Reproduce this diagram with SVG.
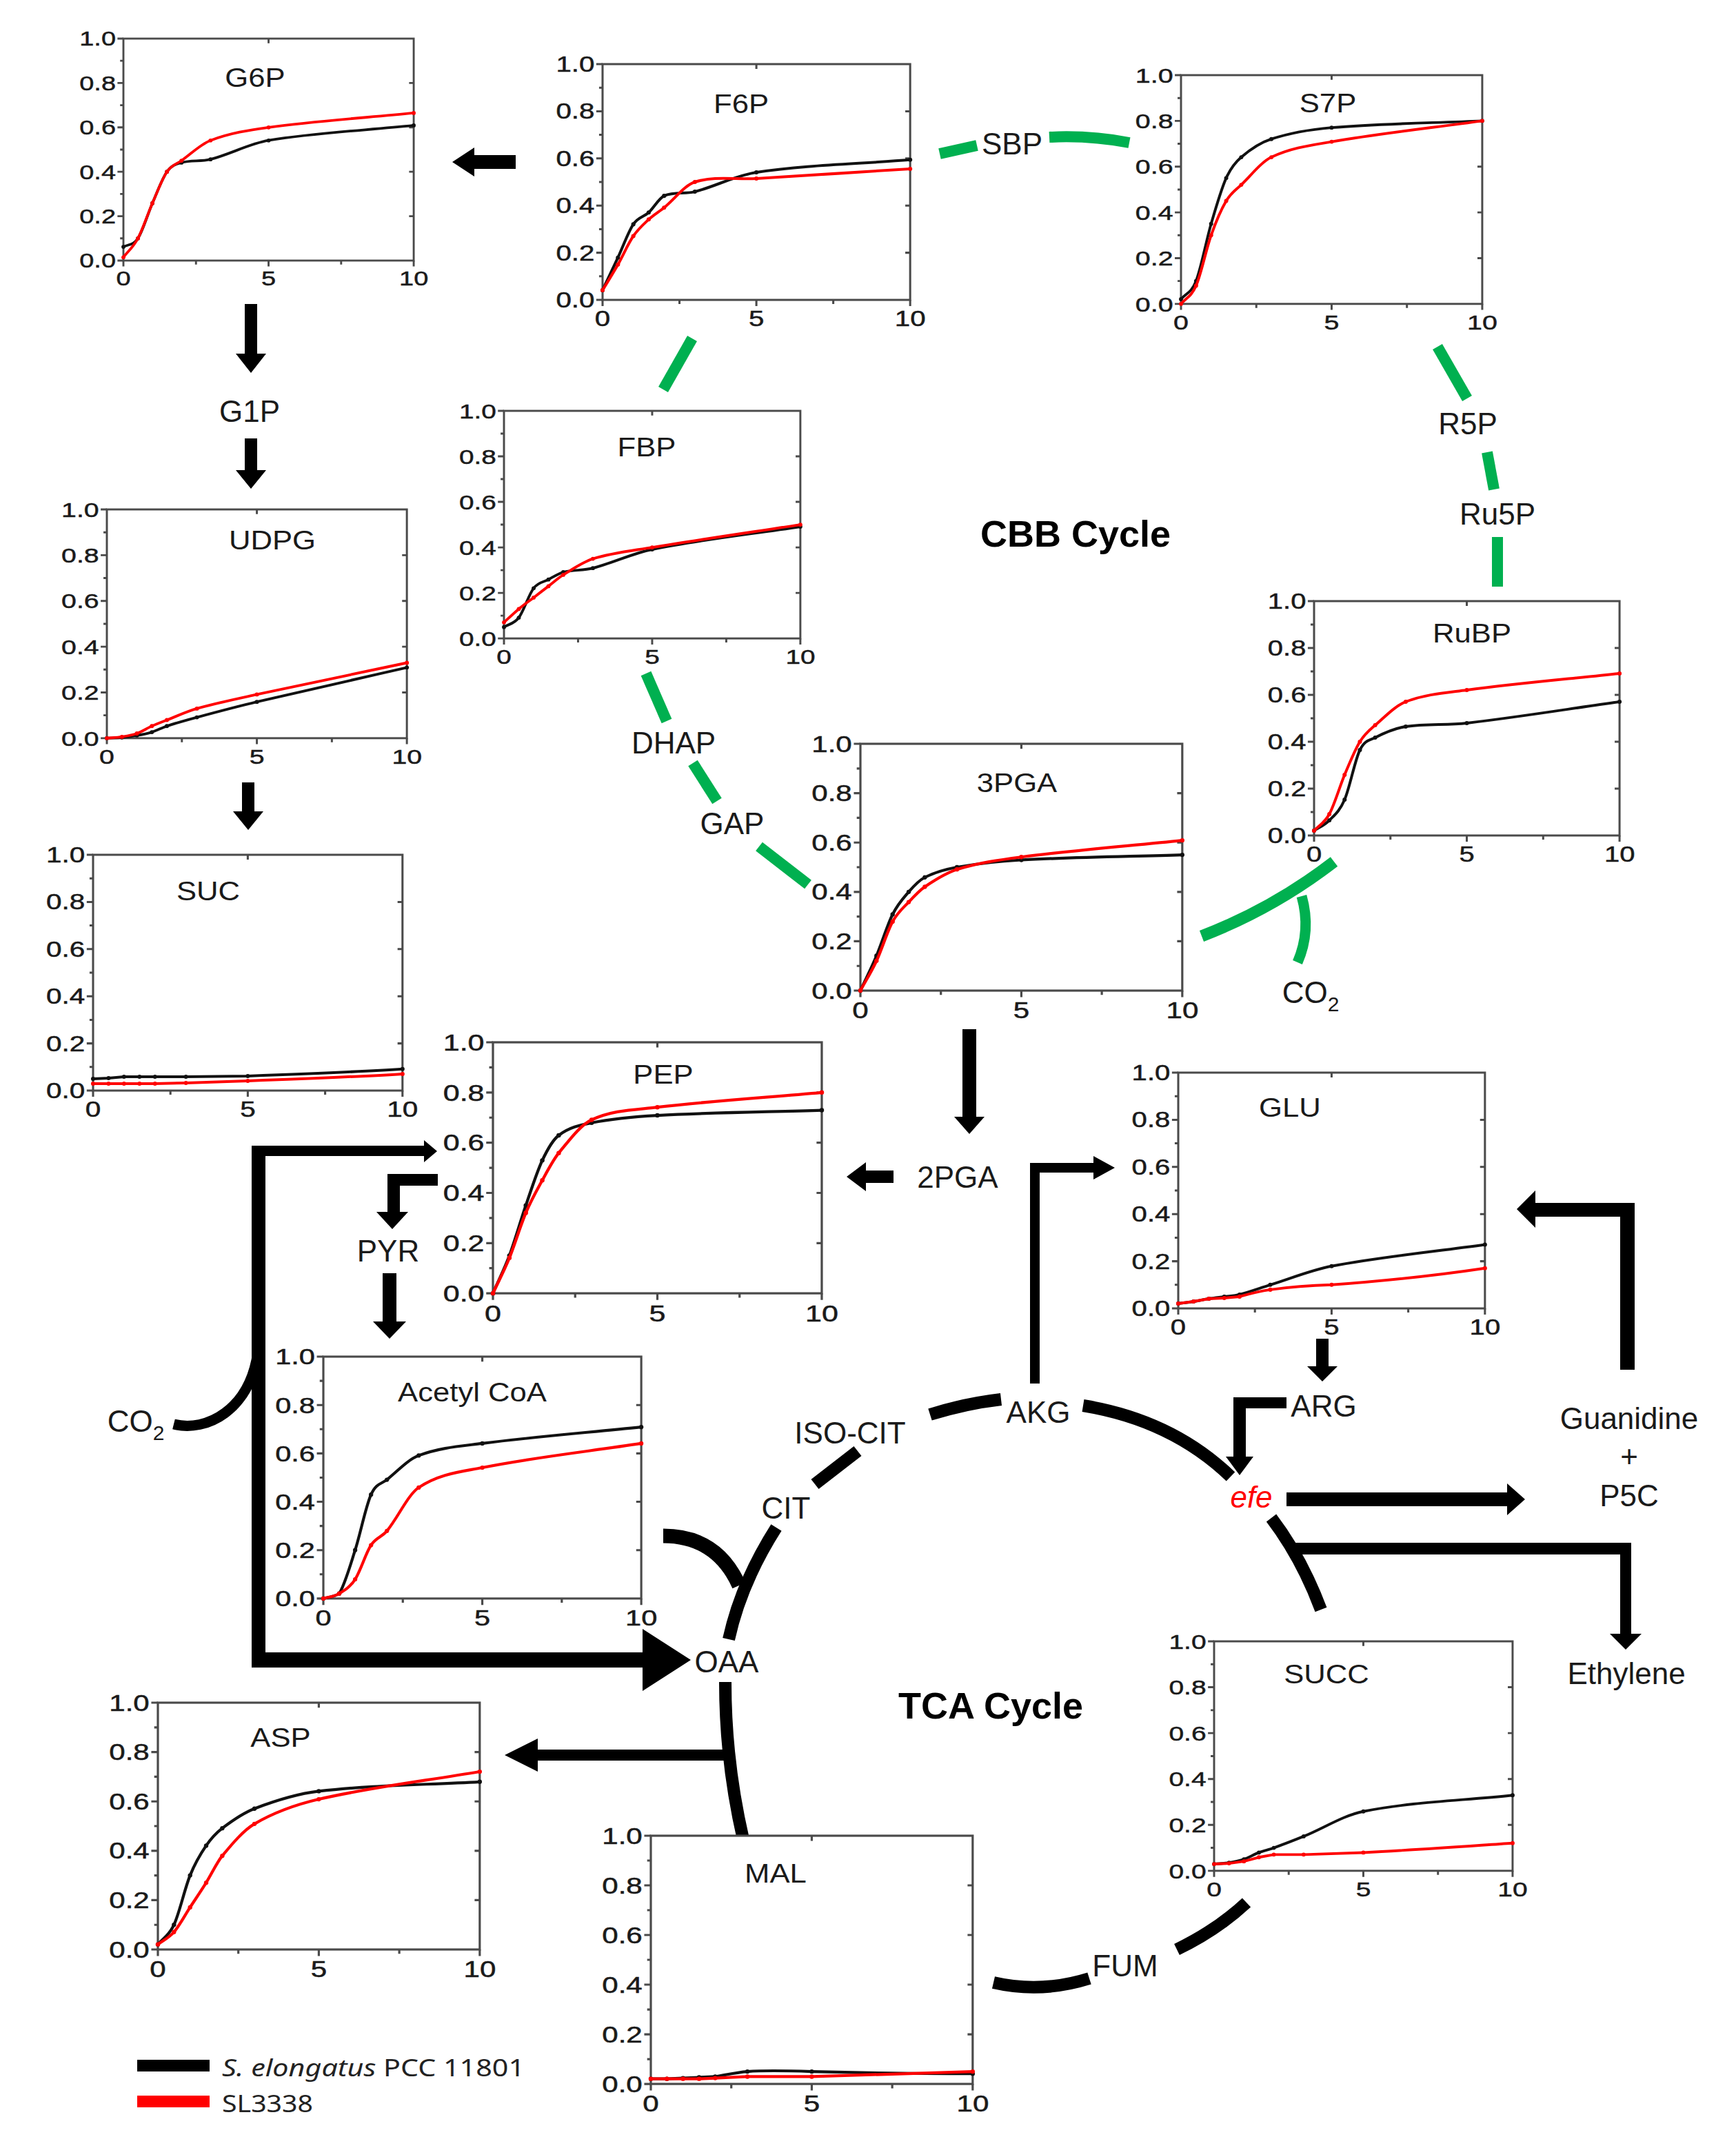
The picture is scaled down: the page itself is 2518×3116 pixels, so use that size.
<svg xmlns="http://www.w3.org/2000/svg" width="2518" height="3116" viewBox="0 0 2518 3116">
<style>
text{font-family:"Liberation Sans",Arial,sans-serif;fill:#1a1a1a}
.tk{font-size:31px;stroke:#1a1a1a;stroke-width:0.5}
.ttl{font-size:39px;text-anchor:middle}
.lbl{font-size:44px;text-anchor:middle}
.bold{font-size:54px;font-weight:bold;text-anchor:middle;fill:#000}
.efe{fill:#f00;font-style:italic}
.lg{font-family:"Noto Sans","Liberation Sans",sans-serif;font-size:35px;fill:#222}
.ax{fill:#fff;stroke:#4a4a4a;stroke-width:3}
.tick{fill:none;stroke:#4a4a4a;stroke-width:3}
.blk{fill:none;stroke:#111;stroke-width:4;stroke-linejoin:round;marker-start:url(#mb);marker-mid:url(#mb);marker-end:url(#mb)}
.red{fill:none;stroke:#f00;stroke-width:4;stroke-linejoin:round;marker-start:url(#mr);marker-mid:url(#mr);marker-end:url(#mr)}
.grn{fill:none;stroke:#00b050;stroke-width:16}
.tca{fill:none;stroke:#000;stroke-width:18}
.arr{fill:#000}
</style>
<defs>
<marker id="mb" markerUnits="userSpaceOnUse" markerWidth="8" markerHeight="8" refX="4" refY="4"><circle cx="4" cy="4" r="3" fill="#111"/></marker>
<marker id="mr" markerUnits="userSpaceOnUse" markerWidth="8" markerHeight="8" refX="4" refY="4"><circle cx="4" cy="4" r="3" fill="#f00"/></marker>
<g id="frame">
<rect class="ax" x="0" y="0" width="440" height="340"/>
<path class="tick" d="M0 0H-9M0 68H-9M0 136H-9M0 204H-9M0 272H-9M0 340H-9M0 34H-5M0 102H-5M0 170H-5M0 238H-5M0 306H-5M440 68H433M440 136H433M440 204H433M440 272H433M220 0V7M0 340V349M220 340V349M440 340V349M110 340V346M330 340V346"/>
<g class="tk" transform="scale(1.28,1)" text-anchor="end">
<text x="-9" y="11">1.0</text><text x="-9" y="79">0.8</text><text x="-9" y="147">0.6</text><text x="-9" y="215">0.4</text><text x="-9" y="283">0.2</text><text x="-9" y="351">0.0</text>
</g>
<g class="tk" transform="scale(1.28,1)" text-anchor="middle">
<text x="0" y="378">0</text><text x="171.9" y="378">5</text><text x="343.8" y="378">10</text>
</g>
</g>
</defs>
<rect width="2518" height="3116" fill="#fff"/>

<g id="connectors">
<path class="grn" d="M1004 491L962 565"/>
<path class="grn" d="M1363 223L1417 211"/>
<path class="grn" d="M1522 199Q1580 196 1638 207"/>
<path class="grn" d="M2085 503L2128 578"/>
<path class="grn" d="M2157 656L2167 710"/>
<path class="grn" d="M2172 779L2172 851"/>
<path class="grn" d="M937 977L967 1046"/>
<path class="grn" d="M1005 1107L1040 1162"/>
<path class="grn" d="M1101 1228L1172 1283"/>
<path class="grn" d="M1743 1358Q1847 1318 1935 1250" style="stroke-width:17"/>
<path class="grn" d="M1888 1300Q1902 1350 1882 1396" style="stroke-width:15"/>
<path class="tca" d="M1349 2052Q1400 2036 1452 2030"/>
<path class="tca" d="M1571 2039Q1700 2060 1785 2142"/>
<path class="tca" d="M1844 2202Q1888 2260 1916 2335"/>
<path class="tca" d="M1182 2153L1244 2105"/>
<path class="tca" d="M1126 2216Q1075 2296 1057 2378"/>
<path class="tca" d="M1052 2440Q1052 2555 1078 2668"/>
<path class="tca" d="M1441 2876Q1510 2892 1580 2870"/>
<path class="tca" d="M1707 2828Q1765 2800 1808 2760"/>
<path class="tca" d="M962 2228Q1040 2228 1072 2300" style="stroke-width:21"/>
<path class="tca" d="M252 2066C300 2078 362 2045 374 1962" style="stroke-width:15"/>
<path class="arr" d="M748 225H688V214L656 235L688 256V245H748Z"/>
<path class="arr" d="M355 441H373V513H386L364 541L342 513H355Z"/>
<path class="arr" d="M355 636H373V682H386L364 709L342 682H355Z"/>
<path class="arr" d="M351 1135H369V1177H382L360 1204L338 1177H351Z"/>
<path class="arr" d="M1396 1493H1416V1620H1428L1406 1645L1384 1620H1396Z"/>
<path class="arr" d="M1296 1698H1256V1686L1228 1707L1256 1728V1716H1296Z"/>
<path class="arr" d="M555 1847H575V1917H589L565 1942L541 1917H555Z"/>
<path class="arr" d="M1909 1942H1927V1982H1940L1918 2004L1896 1982H1909Z"/>
<path class="arr" d="M1494 2007V1687H1586V1677L1617 1694L1586 1711V1701H1508V2007Z"/>
<path class="arr" d="M1866 2027H1789V2113H1778L1798 2140L1818 2113H1807V2043H1866Z"/>
<path class="arr" d="M1866 2165H2186V2152L2212 2175L2186 2198V2185H1866Z"/>
<path class="arr" d="M1879 2238H2366V2370H2381L2358 2393L2335 2370H2350V2255H1879Z"/>
<path class="arr" d="M2371 1987V1745H2227V1727L2200 1754L2227 1781V1765H2350V1987Z"/>
<path class="arr" d="M365 1662H615V1654L634 1670L615 1686V1677H385V2397H932V2363L1002 2408L932 2453V2419H365Z"/>
<path class="arr" d="M635 1703H562V1758H546L569 1783L592 1758H580V1720H635Z"/>
<path class="arr" d="M1055 2538H780V2522L732 2546L780 2570V2554H1055Z"/>
</g>

<g id="labels">
<text class="lbl" x="362" y="612">G1P</text>
<text class="lbl" x="1468" y="224">SBP</text>
<text class="lbl" x="2129" y="630">R5P</text>
<text class="lbl" x="2172" y="761">Ru5P</text>
<text class="lbl" x="977" y="1093">DHAP</text>
<text class="lbl" x="1062" y="1210">GAP</text>
<text class="lbl" x="1901" y="1455">CO<tspan font-size="30" dy="12">2</tspan></text>
<text class="lbl" x="1389" y="1723">2PGA</text>
<text class="lbl" x="563" y="1830">PYR</text>
<text class="lbl" x="197" y="2077">CO<tspan font-size="30" dy="12">2</tspan></text>
<text class="lbl" x="1233" y="2094">ISO-CIT</text>
<text class="lbl" x="1140" y="2203">CIT</text>
<text class="lbl" x="1506" y="2064">AKG</text>
<text class="lbl" x="1920" y="2055">ARG</text>
<text class="lbl efe" x="1815" y="2187">efe</text>
<text class="lbl" x="1054" y="2426">OAA</text>
<text class="lbl" x="1632" y="2867">FUM</text>
<text class="lbl" x="2363" y="2073">Guanidine</text>
<text class="lbl" x="2363" y="2128">+</text>
<text class="lbl" x="2363" y="2185">P5C</text>
<text class="lbl" x="2359" y="2443">Ethylene</text>
<text class="bold" x="1560" y="793">CBB Cycle</text>
<text class="bold" x="1437" y="2493">TCA Cycle</text>
</g>

<g id="node-g6p">
<g transform="translate(179,56) scale(0.957,0.947)"><use href="#frame"/>
<path class="blk" d="M0 319C7.3 314.7 14.7 317.2 22 306C29.3 294.8 36.7 269 44 252C51.3 235 58.7 214.3 66 204C73.3 193.7 80.7 192.1 88 190C102.7 185.8 117.3 188.8 132 185C161.3 177.4 190.7 161 220 156C293.3 143.6 366.7 140.7 440 133"/>
<path class="red" d="M0 335C7.3 325.3 14.7 319.8 22 306C29.3 292.2 36.7 269 44 252C51.3 235 58.7 214.8 66 204C73.3 193.2 80.7 192.3 88 187C102.7 176.3 117.3 161.7 132 156C161.3 144.7 190.7 140 220 136C293.3 126 366.7 121.3 440 114"/></g>
<text class="ttl" transform="translate(370,126) scale(1.12,1)">G6P</text>
</g>
<g id="node-f6p">
<g transform="translate(874,93) scale(1.014,1.006)"><use href="#frame"/>
<path class="blk" d="M0 326C7.3 310.3 14.7 294.8 22 279C29.3 263.2 36.7 241.8 44 231C51.3 220.2 58.7 220.8 66 214C73.3 207.2 80.7 193.3 88 190C102.7 183.3 117.3 187.8 132 184C161.3 176.4 190.7 160.4 220 156C293.3 145.1 366.7 144 440 138"/>
<path class="red" d="M0 326C7.3 313.7 14.7 302 22 289C29.3 276 36.7 258.8 44 248C51.3 237.2 58.7 230.8 66 224C73.3 217.2 80.7 213 88 207C102.7 195 117.3 174.7 132 170C161.3 160.7 190.7 166.8 220 165C293.3 160.5 366.7 155.7 440 151"/></g>
<text class="ttl" transform="translate(1075,164) scale(1.12,1)">F6P</text>
</g>
<g id="node-s7p">
<g transform="translate(1713,109) scale(0.993,0.976)"><use href="#frame"/>
<path class="blk" d="M0 333C7.3 324 14.7 324.7 22 306C29.3 287.3 36.7 246.5 44 221C51.3 195.5 58.7 169.5 66 153C73.3 136.5 80.7 128.4 88 122C102.7 109.1 117.3 99.9 132 95C161.3 85.2 190.7 80.6 220 78C293.3 71.6 366.7 71.3 440 68"/>
<path class="red" d="M0 340C7.3 331 14.7 330 22 313C29.3 296 36.7 259 44 238C51.3 217 58.7 199.5 66 187C73.3 174.5 80.7 170.2 88 163C102.7 148.6 117.3 129.1 132 122C161.3 107.8 190.7 104.1 220 99C293.3 86.1 366.7 78.3 440 68"/></g>
<text class="ttl" transform="translate(1926,163) scale(1.12,1)">S7P</text>
</g>
<g id="node-fbp">
<g transform="translate(731,596) scale(0.977,0.971)"><use href="#frame"/>
<path class="blk" d="M0 323C7.3 318.3 14.7 318.7 22 309C29.3 299.3 36.7 274.5 44 265C51.3 255.5 58.7 256 66 252C73.3 248 80.7 242.9 88 241C102.7 237.2 117.3 238.8 132 235C161.3 227.4 190.7 212.9 220 207C293.3 192.2 366.7 184.3 440 173"/>
<path class="red" d="M0 316C7.3 309.3 14.7 302.2 22 296C29.3 289.8 36.7 284.7 44 279C51.3 273.3 58.7 267.7 66 262C73.3 256.3 80.7 249.6 88 245C102.7 235.9 117.3 225.6 132 221C161.3 211.9 190.7 208.9 220 204C293.3 191.9 366.7 181.3 440 170"/></g>
<text class="ttl" transform="translate(938,662) scale(1.12,1)">FBP</text>
</g>
<g id="node-udpg">
<g transform="translate(155,739) scale(0.989,0.976)"><use href="#frame"/>
<path class="blk" d="M0 340C7.3 339.7 14.7 339.7 22 339C29.3 338.3 36.7 337.3 44 336C51.3 334.7 58.7 333.3 66 331C73.3 328.7 80.7 324.4 88 322C102.7 317.1 117.3 313 132 309C161.3 301 190.7 293 220 286C293.3 268.4 366.7 252 440 235"/>
<path class="red" d="M0 340C7.3 339.3 14.7 339.2 22 338C29.3 336.8 36.7 335.7 44 333C51.3 330.3 58.7 325.3 66 322C73.3 318.7 80.7 315.9 88 313C102.7 307.2 117.3 300.2 132 296C161.3 287.6 190.7 281.5 220 275C293.3 258.8 366.7 243.7 440 228"/></g>
<text class="ttl" transform="translate(395,797) scale(1.12,1)">UDPG</text>
</g>
<g id="node-rubp">
<g transform="translate(1906,872) scale(1.007,1)"><use href="#frame"/>
<path class="blk" d="M0 333C7.3 328 14.7 325.5 22 318C29.3 310.5 36.7 305 44 288C51.3 271 58.7 231 66 216C73.3 201 80.7 201.8 88 198C102.7 190.4 117.3 184.3 132 182C161.3 177.3 190.7 180.4 220 177C293.3 168.4 366.7 156.3 440 146"/>
<path class="red" d="M0 333C7.3 325 14.7 322.5 22 309C29.3 295.5 36.7 269.5 44 252C51.3 234.5 58.7 216 66 204C73.3 192 80.7 186.4 88 180C102.7 167.1 117.3 151.7 132 146C161.3 134.7 190.7 132.9 220 129C293.3 119.2 366.7 113 440 105"/></g>
<text class="ttl" transform="translate(2135,932) scale(1.12,1)">RuBP</text>
</g>
<g id="node-3pga">
<g transform="translate(1248,1079) scale(1.061,1.053)"><use href="#frame"/>
<path class="blk" d="M0 340C7.3 324 14.7 309.5 22 292C29.3 274.5 36.7 249.7 44 235C51.3 220.3 58.7 212.5 66 204C73.3 195.5 80.7 187.8 88 184C102.7 176.4 117.3 172.7 132 170C161.3 164.7 190.7 161.6 220 160C293.3 156 366.7 155.3 440 153"/>
<path class="red" d="M0 340C7.3 326.3 14.7 314.8 22 299C29.3 283.2 36.7 258.5 44 245C51.3 231.5 58.7 226 66 218C73.3 210 80.7 202 88 197C102.7 187 117.3 177.6 132 173C161.3 163.9 190.7 159.8 220 156C293.3 146.5 366.7 140.7 440 133"/></g>
<text class="ttl" transform="translate(1475,1149) scale(1.12,1)">3PGA</text>
</g>
<g id="node-suc">
<g transform="translate(135,1240) scale(1.02,1.006)"><use href="#frame"/>
<path class="blk" d="M0 323L22 322L44 320L66 320L88 320L132 320L220 319C300 316 380 313 440 309"/>
<path class="red" d="M0 330L22 330L44 330L66 330L88 330L132 329L220 326C300 323 380 320 440 316"/></g>
<text class="ttl" transform="translate(302,1306) scale(1.12,1)">SUC</text>
</g>
<g id="node-pep">
<g transform="translate(715,1512) scale(1.084,1.071)"><use href="#frame"/>
<path class="blk" d="M0 340C7.3 323 14.7 308.8 22 289C29.3 269.2 36.7 242.5 44 221C51.3 199.5 58.7 175.8 66 160C73.3 144.2 80.7 131.7 88 126C102.7 114.7 117.3 112 132 109C161.3 103 190.7 100.6 220 99C293.3 95 366.7 94.3 440 92"/>
<path class="red" d="M0 340C7.3 324 14.7 310.2 22 292C29.3 273.8 36.7 248.5 44 231C51.3 213.5 58.7 200.5 66 187C73.3 173.5 80.7 159.1 88 150C102.7 131.8 117.3 111.9 132 105C161.3 91.2 190.7 91.5 220 88C293.3 79.2 366.7 74.7 440 68"/></g>
<text class="ttl" transform="translate(962,1572) scale(1.12,1)">PEP</text>
</g>
<g id="node-glu">
<g transform="translate(1709,1556) scale(1.011,1.006)"><use href="#frame"/>
<path class="blk" d="M0 333C7.3 332 14.7 331.2 22 330C29.3 328.8 36.7 327.2 44 326C51.3 324.8 58.7 324 66 323C73.3 322 80.7 321.9 88 320C102.7 316.2 117.3 310.6 132 306C161.3 296.9 190.7 284.5 220 279C293.3 265.2 366.7 258.3 440 248"/>
<path class="red" d="M0 333L22 330L44 326L66 325L88 323C102 319 118 315 132 313C162 309 190 307 220 306C300 300 380 291 440 282"/></g>
<text class="ttl" transform="translate(1871,1620) scale(1.12,1)">GLU</text>
</g>
<g id="node-acetylcoa">
<g transform="translate(469,1968) scale(1.048,1.032)"><use href="#frame"/>
<path class="blk" d="M0 340C7.3 338 14.7 338 22 333C29.3 321.7 36.7 295.2 44 272C51.3 248.8 58.7 210.5 66 194C73.3 177.5 80.7 179.1 88 173C102.7 160.8 117.3 144.7 132 139C161.3 127.7 190.7 125.8 220 122C293.3 112.5 366.7 106.7 440 99"/>
<path class="red" d="M0 340C7.3 337.7 14.7 337.5 22 333C29.3 328.5 36.7 324.3 44 313C51.3 301.7 58.7 276.3 66 265C73.3 253.7 80.7 254 88 245C102.7 227 117.3 193.9 132 184C161.3 164.2 190.7 161.9 220 156C293.3 141.2 366.7 133.3 440 122"/></g>
<text class="ttl" transform="translate(685,2033) scale(1.12,1)">Acetyl CoA</text>
</g>
<g id="node-succ">
<g transform="translate(1761,2381) scale(0.984,0.979)"><use href="#frame"/>
<path class="blk" d="M0 330C7.3 329.3 14.7 329.2 22 328C29.3 326.8 36.7 325.5 44 323C51.3 320.5 58.7 315.8 66 313C73.3 310.2 80.7 308.7 88 306C102.7 300.7 117.3 295 132 289C161.3 277 190.7 257.8 220 252C293.3 237.5 366.7 236 440 228"/>
<path class="red" d="M0 330L22 329L44 326L66 320L88 316L132 316L220 313C300 309 380 303 440 299"/></g>
<text class="ttl" transform="translate(1924,2442) scale(1.12,1)">SUCC</text>
</g>
<g id="node-asp">
<g transform="translate(229,2470) scale(1.061,1.053)"><use href="#frame"/>
<path class="blk" d="M0 333C7.3 324 14.7 321.8 22 306C29.3 290.2 36.7 256.2 44 238C51.3 219.8 58.7 207.8 66 197C73.3 186.2 80.7 178.7 88 173C102.7 161.7 117.3 151.7 132 146C161.3 134.7 190.7 125.5 220 122C293.3 113.2 366.7 113.3 440 109"/>
<path class="red" d="M0 333C7.3 327.3 14.7 324.5 22 316C29.3 307.5 36.7 293.3 44 282C51.3 270.7 58.7 259.8 66 248C73.3 236.2 80.7 220 88 211C102.7 193 117.3 175.7 132 167C161.3 149.7 190.7 139.9 220 133C293.3 115.9 366.7 107.7 440 95"/></g>
<text class="ttl" transform="translate(407,2534) scale(1.12,1)">ASP</text>
</g>
<g id="node-mal">
<g transform="translate(944,2663) scale(1.061,1.059)"><use href="#frame"/>
<path class="blk" d="M0 333L22 333L44 332L66 331L88 330C105 327 118 324 132 323C160 321 190 322 220 323C300 325 380 326 440 326"/>
<path class="red" d="M0 333L22 333L44 333L66 333L88 332L132 330L220 330C300 328 380 325 440 323"/></g>
<text class="ttl" transform="translate(1125,2731) scale(1.12,1)">MAL</text>
</g>

<g id="legend">
<rect x="199" y="2988" width="105" height="17" fill="#000"/>
<rect x="199" y="3040" width="105" height="17" fill="#f00"/>
<text class="lg" x="322" y="3012" textLength="439" lengthAdjust="spacingAndGlyphs"><tspan font-style="italic">S. elongatus</tspan> PCC 11801</text>
<text class="lg" x="322" y="3064" textLength="132" lengthAdjust="spacingAndGlyphs">SL3338</text>
</g>
</svg>
